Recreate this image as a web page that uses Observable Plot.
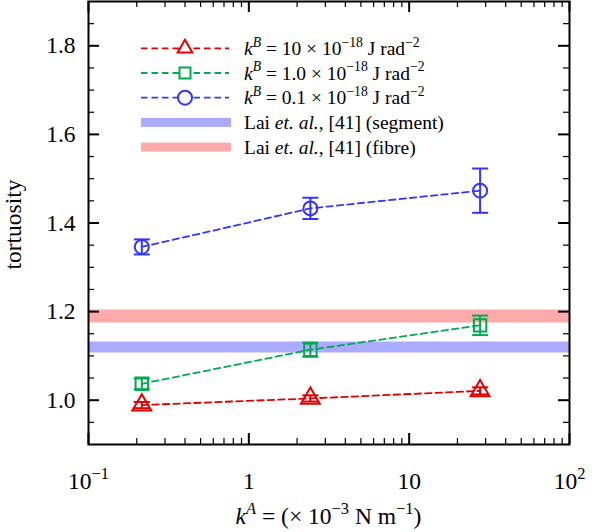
<!DOCTYPE html>
<html>
<head>
<meta charset="utf-8">
<script src="https://cdn.jsdelivr.net/npm/d3@7"></script>
<script src="https://cdn.jsdelivr.net/npm/@observablehq/plot@0.6"></script>
<style>
  html, body { margin: 0; padding: 0; background: #fff; }
  #chart svg { display: block; }
</style>
</head>
<body>
<div id="chart"></div>
<script>
// ---------- data ----------
const kA = [0.215, 2.42, 27.7];               // x positions (×10^-3 N m^-1)
const seriesKeys = ["kB10", "kB1", "kB01"];
const tortKB10 = [0.989, 1.004, 1.021];
const errKB10  = [0.007, 0.007, 0.008];
const tortKB1  = [1.037, 1.114, 1.169];
const errKB1   = [0.012, 0.016, 0.022];
const tortKB01 = [1.346, 1.433, 1.473];
const errKB01  = [0.017, 0.024, 0.050];
const laiSegment = 1.120;
const laiFibre   = 1.190;

const seriesColors  = ["#e00000", "#00aa50", "#3535ff"];
const seriesSymbols = ["triangle", "square", "circle"];
const legendLabels = [
  [{t:"k",i:1},{t:"B",i:1,s:1},{t:" = 10 × 10"},{t:"−18",s:1},{t:" J rad"},{t:"−2",s:1}],
  [{t:"k",i:1},{t:"B",i:1,s:1},{t:" = 1.0 × 10"},{t:"−18",s:1},{t:" J rad"},{t:"−2",s:1}],
  [{t:"k",i:1},{t:"B",i:1,s:1},{t:" = 0.1 × 10"},{t:"−18",s:1},{t:" J rad"},{t:"−2",s:1}],
  [{t:"Lai "},{t:"et. al.",i:1},{t:", [41] (segment)"}],
  [{t:"Lai "},{t:"et. al.",i:1},{t:", [41] (fibre)"}]
];
const bandColors = ["#aaaaff", "#ffaaaa"];

const xMajorTicks = [0.1, 1, 10, 100];
const xTickLabels = ["10^−1", "1", "10", "10^2"];
const xMinorTicks = [0.2,0.3,0.4,0.5,0.6,0.7,0.8,0.9, 2,3,4,5,6,7,8,9, 20,30,40,50,60,70,80,90];
const yMajorTicks = [1.0, 1.2, 1.4, 1.6, 1.8];
const yMinorTicks = [0.95,1.05,1.1,1.15,1.25,1.3,1.35,1.45,1.5,1.55,1.65,1.7,1.75,1.85];

const xTitle = [{t:"k",i:1},{t:"A",i:1,s:1},{t:" = (× 10"},{t:"−3",s:1},{t:" N m"},{t:"−1",s:1},{t:")"}];
const yTitle = "tortuosity";

// ---------- table ----------
const tortBySeries = [tortKB10, tortKB1, tortKB01];
const errBySeries  = [errKB10, errKB1, errKB01];
const rows = [];
seriesKeys.forEach((s, si) => kA.forEach((x, i) =>
  rows.push({series: s, x, y: tortBySeries[si][i], err: errBySeries[si][i]})));

// ---------- layout ----------
const W = 612, H = 532, mL = 88, mR = 43, mT = 1, mB = 88;
const innerW = W - mL - mR, innerH = H - mT - mB;
const FONT = "'Liberation Serif', 'Times New Roman', 'DejaVu Serif', serif";
const hbar = {draw(ctx, size) { const w = Math.sqrt(size / Math.PI); ctx.moveTo(-w, 0); ctx.lineTo(w, 0); }};

const dataMarks = [];
seriesKeys.forEach((s, si) => {
  const d = rows.filter(r => r.series === s);
  const c = seriesColors[si];
  dataMarks.push(
    Plot.line(d, {x: "x", y: "y", stroke: c, strokeWidth: 1.8, strokeDasharray: "6.5,4"}),
    Plot.ruleX(d, {x: "x", y1: r => r.y - r.err, y2: r => r.y + r.err, stroke: c, strokeWidth: 2}),
    Plot.dot(d, {x: "x", y: r => r.y - r.err, symbol: hbar, r: 8, stroke: c, strokeWidth: 2}),
    Plot.dot(d, {x: "x", y: r => r.y + r.err, symbol: hbar, r: 8, stroke: c, strokeWidth: 2}),
    Plot.dot(d, {x: "x", y: "y", symbol: seriesSymbols[si], r: 7, stroke: c, fill: "none", strokeWidth: 2})
  );
});

const plot = Plot.plot({
  width: W, height: H,
  marginLeft: mL, marginRight: mR, marginTop: mT, marginBottom: mB,
  style: {fontFamily: FONT, fontSize: "23.5px", background: "white", color: "black", overflow: "visible"},
  x: {type: "log", domain: [0.1, 100]},
  y: {domain: [0.9, 1.9]},
  marks: [
    Plot.ruleY([laiSegment], {y: d => d, stroke: bandColors[0], strokeWidth: 11}),
    Plot.ruleY([laiFibre], {y: d => d, stroke: bandColors[1], strokeWidth: 13}),
    ...dataMarks,
    // inward ticks on all four sides
    Plot.tickX(xMajorTicks, {x: d => d, insetTop: innerH - 11, stroke: "black", strokeWidth: 2}),
    Plot.tickX(xMajorTicks, {x: d => d, insetBottom: innerH - 11, stroke: "black", strokeWidth: 2}),
    Plot.tickX(xMinorTicks, {x: d => d, insetTop: innerH - 6, stroke: "black", strokeWidth: 1.2}),
    Plot.tickX(xMinorTicks, {x: d => d, insetBottom: innerH - 6, stroke: "black", strokeWidth: 1.2}),
    Plot.tickY(yMajorTicks, {y: d => d, insetRight: innerW - 11, stroke: "black", strokeWidth: 2}),
    Plot.tickY(yMajorTicks, {y: d => d, insetLeft: innerW - 11, stroke: "black", strokeWidth: 2}),
    Plot.tickY(yMinorTicks, {y: d => d, insetRight: innerW - 6, stroke: "black", strokeWidth: 1.2}),
    Plot.tickY(yMinorTicks, {y: d => d, insetLeft: innerW - 6, stroke: "black", strokeWidth: 1.2}),
    Plot.frame({stroke: "black", strokeWidth: 2}),
    Plot.axisX(xMajorTicks, {tickSize: 0, tickPadding: 28, label: null,
      tickFormat: d => xTickLabels[xMajorTicks.indexOf(d)]}),
    Plot.axisY(yMajorTicks, {tickSize: 0, tickPadding: 13, label: null, tickFormat: d3.format(".1f")})
  ]
});

document.getElementById("chart").appendChild(plot);

// ---------- rich text helper ----------
function richText(sel, parts, fs) {
  let raised = false;
  parts.forEach(p => {
    const ts = sel.append("tspan").text(p.t);
    if (p.i) ts.attr("font-style", "italic");
    if (p.s) {
      ts.attr("font-size", (fs * 0.7) + "px");
      if (!raised) { ts.attr("dy", -0.42 * fs); raised = true; }
    } else if (raised) {
      ts.attr("dy", 0.42 * fs); raised = false;
    }
  });
}

const svg = d3.select(plot);

// x tick labels with superscripts
svg.selectAll('g[aria-label="x-axis tick label"] text').each(function() {
  const s = d3.select(this);
  const txt = s.text();
  if (txt.includes("^")) {
    const [base, sup] = txt.split("^");
    s.text("");
    richText(s, [{t: base}, {t: sup, s: 1}], 23.5);
  }
});

// axis titles
const xt = svg.append("text")
  .attr("x", mL + innerW / 2).attr("y", 524)
  .attr("text-anchor", "middle").attr("font-size", "23.5px").attr("font-family", FONT).attr("fill", "black");
richText(xt, xTitle, 23.5);

svg.append("text")
  .attr("transform", `translate(21,${mT + innerH / 2 + 2}) rotate(-90)`)
  .attr("text-anchor", "middle").attr("font-size", "23.5px").attr("font-family", FONT).attr("fill", "black")
  .text(yTitle);

// legend
const LFS = 19.5;
const leg = svg.append("g").attr("font-family", FONT).attr("font-size", LFS + "px").attr("text-anchor", "start");
const rowY = i => 48.3 + i * 24.7;
const lx1 = 141, lx2 = 229, lmx = 185, ltx = 244;
const symMap = {triangle: d3.symbolTriangle2, square: d3.symbolSquare2, circle: d3.symbolCircle};
seriesKeys.forEach((s, i) => {
  const y = rowY(i);
  leg.append("line").attr("x1", lx1).attr("x2", lx2).attr("y1", y).attr("y2", y)
    .attr("stroke", seriesColors[i]).attr("stroke-width", 1.8).attr("stroke-dasharray", "6.5,4");
  leg.append("path").attr("d", d3.symbol(symMap[seriesSymbols[i]], Math.PI * 49)())
    .attr("transform", `translate(${lmx},${y})`)
    .attr("fill", "white").attr("stroke", seriesColors[i]).attr("stroke-width", 2);
});
bandColors.forEach((c, j) => {
  const y = rowY(3 + j);
  leg.append("rect").attr("x", lx1).attr("width", 90).attr("y", y - 4.5).attr("height", 9).attr("fill", c);
});
legendLabels.forEach((parts, i) => {
  const t = leg.append("text").attr("x", ltx).attr("y", rowY(i) + 6.5)
    .attr("fill", "black").attr("text-anchor", "start");
  richText(t, parts, LFS);
});
</script>
</body>
</html>
